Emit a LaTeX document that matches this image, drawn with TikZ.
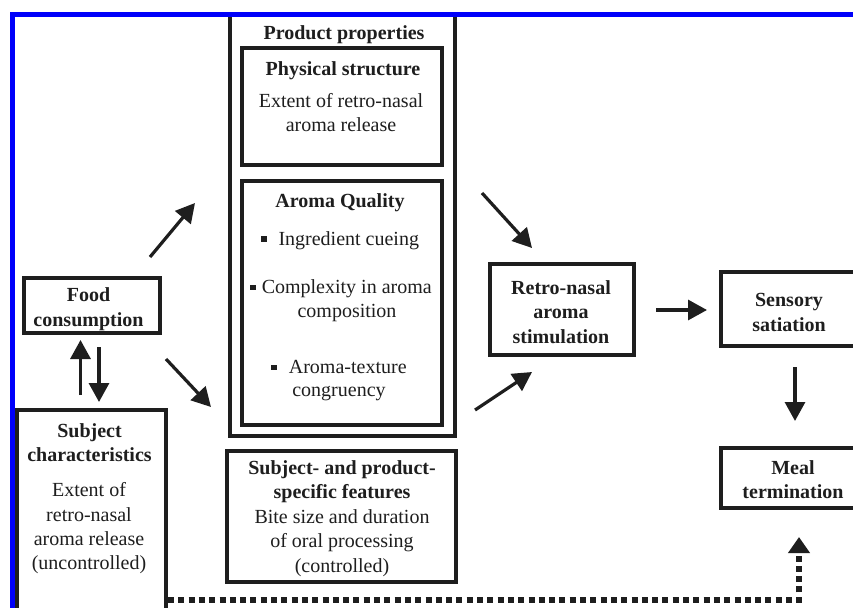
\documentclass[tikz,border=0pt]{standalone}
\usepackage{fontspec}
\setmainfont{Liberation Serif}
\usetikzlibrary{arrows.meta}
\definecolor{ink}{RGB}{30,30,30}
\definecolor{frameblue}{RGB}{0,0,250}
\begin{document}
\begin{tikzpicture}[x=1pt,y=-1pt,
  box/.style={draw=ink, line width=4pt, inner sep=0pt, fill=white},
  txt/.style={inner sep=0pt, anchor=north, align=center, text=ink, font=\fontsize{20}{24.4}\selectfont},
  btxt/.style={txt, font=\fontsize{20}{24.4}\selectfont\bfseries},
  arr/.style={draw=ink, line width=3.2pt, -{Triangle[length=19pt,width=20pt]}},
  dotarr/.style={draw=ink, line width=6pt, dash pattern=on 6pt off 4.3pt, -{Triangle[length=16pt,width=21pt]}},
]
\clip (0,0) rectangle (853,607);
\fill[white] (0,0) rectangle (853,607);

% boxes
\node[box, line width=3.5pt, minimum width=225pt, minimum height=421pt] (prod) at (342.5,225.5) {};
\node[box, minimum width=200pt, minimum height=117pt] (phys) at (342,106.5) {};
\node[box, minimum width=200pt, minimum height=244pt] (aroma) at (342,303) {};
\node[box, minimum width=229pt, minimum height=131pt] (subjprod) at (341.5,516.5) {};
\node[box, minimum width=136pt, minimum height=55pt] (food) at (92,305.5) {};
\node[box, minimum width=149pt, minimum height=230pt] (subjchar) at (91.5,525) {};
\node[box, minimum width=144pt, minimum height=91pt] (retro) at (562,309.5) {};
\node[box, minimum width=137pt, minimum height=74pt] (sens) at (789.5,309) {};
\node[box, minimum width=144pt, minimum height=60pt] (meal) at (793,478) {};

% texts
\node[btxt] (tprod) at (344,22) {\strut Product properties};
\node[btxt] (tphys) at (343,58) {\strut Physical structure};
\node[txt] (tphysb) at (341,90.3) {\strut Extent of retro-nasal\\aroma release};
\node[btxt] (taroma) at (340,190.7) {\strut Aroma Quality};
\node[txt] (tb1) at (340,228) {\strut\rule[3.5pt]{5.5pt}{5.5pt}\hspace{12pt}Ingredient cueing};
\node[txt, font=\fontsize{20}{23.7}\selectfont] (tb2) at (341,277) {\strut\rule[3.5pt]{5.5pt}{5.5pt}\hspace{6pt}Complexity in aroma\\\hspace{12pt}composition};
\node[txt, font=\fontsize{20}{23.4}\selectfont] (tb3) at (339,357) {\strut\rule[3.5pt]{5.5pt}{5.5pt}\hspace{12pt}Aroma-texture\\congruency};
\node[btxt, font=\fontsize{20}{24}\selectfont\bfseries] (tsp) at (342,457) {\strut Subject- and product-\\specific features};
\node[txt, font=\fontsize{20}{24.6}\selectfont] (tspb) at (342,505.7) {\strut Bite size and duration\\of oral processing\\(controlled)};
\node[btxt] (tfood) at (88.5,284.7) {\strut Food\\consumption};
\node[btxt] (tsc) at (89.5,420.3) {\strut Subject\\characteristics};
\node[txt, font=\fontsize{20}{24.2}\selectfont] (tscb) at (89,479.7) {\strut Extent of\\retro-nasal\\aroma release\\(uncontrolled)};
\node[btxt] (tretro) at (561,277) {\strut Retro-nasal\\aroma\\stimulation};
\node[btxt] (tsens) at (789,289.7) {\strut Sensory\\satiation};
\node[btxt] (tmeal) at (793,457) {\strut Meal\\termination};

% arrow end points
\coordinate (a1s) at (150,257); \coordinate (a1e) at (195,203);
\coordinate (a2s) at (166,359); \coordinate (a2e) at (211,407);
\coordinate (a3s) at (80.5,395);  \coordinate (a3e) at (80.5,340);
\coordinate (a4s) at (99,347);  \coordinate (a4e) at (99,402);
\coordinate (a5s) at (482,193); \coordinate (a5e) at (532,248);
\coordinate (a6s) at (475,410); \coordinate (a6e) at (532,372);
\coordinate (a7s) at (656,310); \coordinate (a7e) at (707,310);
\coordinate (a8s) at (795,367); \coordinate (a8e) at (795,421);
\coordinate (dstart) at (subjchar.east |- 0,600);
\coordinate (dcorner) at (799,600);
\coordinate (dend) at (799,537);

\draw[arr] (a1s) -- (a1e);
\draw[arr] (a2s) -- (a2e);
\draw[arr] (a3s) -- (a3e);
\draw[arr] (a4s) -- (a4e);
\draw[arr] (a5s) -- (a5e);
\draw[arr] (a6s) -- (a6e);
\draw[arr] (a7s) -- (a7e);
\draw[arr] (a8s) -- (a8e);
\draw[dotarr] (dstart) -- (dcorner) -- (dend);

% blue frame
\draw[frameblue, line width=5pt] (12.5,640) -- (12.5,14.5) -- (880,14.5);
\end{tikzpicture}
\end{document}
